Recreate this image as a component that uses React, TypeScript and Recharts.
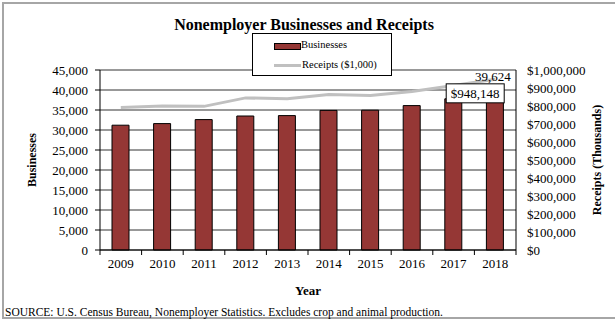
import React from 'react';
import {
  ComposedChart,
  Bar,
  Line,
  XAxis,
  YAxis,
  CartesianGrid,
  Legend,
  LabelList,
  Label,
} from 'recharts';

const years = ['2009', '2010', '2011', '2012', '2013', '2014', '2015', '2016', '2017', '2018'];
const businesses = [31200, 31600, 32600, 33500, 33600, 34900, 34950, 36100, 37800, 39624];
const receipts = [792000, 800000, 798000, 845000, 840000, 864000, 858000, 880000, 914000, 948148];
const businessTicks = [0, 5000, 10000, 15000, 20000, 25000, 30000, 35000, 40000, 45000];
const receiptTicks = [0, 100000, 200000, 300000, 400000, 500000, 600000, 700000, 800000, 900000, 1000000];

const data = years.map((year, i) => ({ year, businesses: businesses[i], receipts: receipts[i] }));

const FONT = '"Liberation Serif", "Times New Roman", serif';
const BAR_COLOR = '#953735';
const LINE_COLOR = '#C0C0C0';

const fmtNum = (v: number) => v.toLocaleString('en-US');
const fmtMoney = (v: number) => '$' + v.toLocaleString('en-US');

const XTick = (props: any) => {
  const { x, y, payload, index } = props;
  const half = payload && typeof payload.offset === 'number' && payload.offset > 0 ? payload.offset : 20.8;
  return (
    <g>
      <line x1={x + half} x2={x + half} y1={y} y2={y + 5} stroke="#000" strokeWidth={1} />
      {index === 0 ? <line x1={x - half} x2={x - half} y1={y} y2={y + 5} stroke="#000" strokeWidth={1} /> : null}
      <text x={x} y={y + 13} textAnchor="middle" dominantBaseline="central" fontFamily={FONT} fontSize={13} fill="#000">
        {payload.value}
      </text>
    </g>
  );
};

const barLabel = (props: any) => {
  const { x, y, width, value, index } = props;
  if (index !== years.length - 1) return null;
  return (
    <text x={x + width / 2 - 2} y={y - 15} textAnchor="middle" dominantBaseline="central" fontFamily={FONT} fontSize={13} fill="#000">
      {fmtNum(value)}
    </text>
  );
};

const lineLabel = (props: any) => {
  const { x, y, value, index } = props;
  if (index !== years.length - 1) return null;
  const cx = x - 20;
  const cy = y + 14;
  return (
    <g>
      <rect x={cx - 29} y={cy - 9.5} width={58} height={19} fill="#fff" stroke="#000" strokeWidth={1} />
      <text x={cx} y={cy} textAnchor="middle" dominantBaseline="central" fontFamily={FONT} fontSize={13} fill="#000">
        {fmtMoney(value)}
      </text>
    </g>
  );
};

const LegendBox = () => (
  <div
    style={{
      width: 140,
      height: 43,
      boxSizing: 'border-box',
      border: '1px solid #000',
      background: '#fff',
      position: 'relative',
      fontFamily: FONT,
      fontSize: 10.5,
      color: '#000',
    }}
  >
    <div style={{ position: 'absolute', left: 21, top: 9, width: 25, height: 5, background: BAR_COLOR, border: '1px solid #000' }} />
    <div style={{ position: 'absolute', left: 48, top: 4, lineHeight: '14px' }}>Businesses</div>
    <div style={{ position: 'absolute', left: 21, top: 30, width: 27, height: 3, background: LINE_COLOR }} />
    <div style={{ position: 'absolute', left: 49, top: 24, lineHeight: '14px' }}>Receipts ($1,000)</div>
  </div>
);

export default function App() {
  return (
    <div
      style={{
        position: 'absolute',
        left: 0,
        top: 0,
        width: 615,
        height: 320,
        overflow: 'hidden',
        background: '#fff',
        fontFamily: FONT,
      }}
    >
      <div
        style={{
          position: 'absolute',
          left: 2,
          top: 2,
          width: 700,
          height: 313,
          borderLeft: '2px solid #a6a6a6',
          borderTop: '2px solid #a6a6a6',
          borderBottom: '2px solid #a6a6a6',
        }}
      />
      <div
        style={{
          position: 'absolute',
          left: 0,
          top: 16,
          width: 608,
          textAlign: 'center',
          fontWeight: 'bold',
          fontSize: 16,
          lineHeight: '18px',
          color: '#000',
        }}
      >
        Nonemployer Businesses and Receipts
      </div>
      <div
        style={{
          position: 'absolute',
          left: 5,
          top: 305,
          fontSize: 11.5,
          lineHeight: '14px',
          color: '#000',
          whiteSpace: 'nowrap',
        }}
      >
        SOURCE: U.S. Census Bureau, Nonemployer Statistics. Excludes crop and animal production.
      </div>
      <div style={{ position: 'absolute', left: 0, top: 0 }}>
        <ComposedChart width={615} height={320} data={data} margin={{ top: 70, right: 10, bottom: 30, left: 10 }}>
          <CartesianGrid yAxisId="left" vertical={false} stroke="#333" strokeWidth={1} />
          <XAxis
            dataKey="year"
            height={40}
            tickLine={false}
            tickSize={0}
            tickMargin={0}
            axisLine={{ stroke: '#000' }}
            tick={<XTick />}
            interval={0}
          >
            <Label
              value="Year"
              position="insideTop"
              offset={36}
              style={{ fontFamily: FONT, fontSize: 13, fontWeight: 'bold', fill: '#000' }}
            />
          </XAxis>
          <YAxis
            yAxisId="left"
            width={90}
            domain={[0, 45000]}
            ticks={businessTicks}
            tickFormatter={fmtNum}
            interval={0}
            tickSize={5}
            tickMargin={7}
            axisLine={{ stroke: '#000' }}
            tickLine={{ stroke: '#000' }}
            tick={{ fontFamily: FONT, fontSize: 13, fill: '#000' }}
          >
            <Label
              value="Businesses"
              angle={-90}
              position="insideLeft"
              offset={22}
              style={{ fontFamily: FONT, fontSize: 12, fontWeight: 'bold', fill: '#000', textAnchor: 'middle' }}
            />
          </YAxis>
          <YAxis
            yAxisId="right"
            orientation="right"
            width={89}
            domain={[0, 1000000]}
            ticks={receiptTicks}
            tickFormatter={fmtMoney}
            interval={0}
            tickSize={5}
            tickMargin={6}
            axisLine={{ stroke: '#000' }}
            tickLine={false}
            tick={{ fontFamily: FONT, fontSize: 13, fill: '#000' }}
          >
            <Label
              value="Receipts (Thousands)"
              angle={-90}
              position="insideRight"
              offset={8}
              style={{ fontFamily: FONT, fontSize: 12, fontWeight: 'bold', fill: '#000', textAnchor: 'middle' }}
            />
          </YAxis>
          <Legend
            layout="vertical"
            align="center"
            verticalAlign="middle"
            wrapperStyle={{ left: 252, top: 33, width: 140, height: 43 }}
            content={() => <LegendBox />}
          />
          <Bar
            yAxisId="left"
            dataKey="businesses"
            name="Businesses"
            fill={BAR_COLOR}
            stroke="#000"
            strokeWidth={1}
            barSize={17}
            isAnimationActive={false}
          >
            <LabelList dataKey="businesses" content={barLabel} />
          </Bar>
          <Line
            yAxisId="right"
            dataKey="receipts"
            name="Receipts ($1,000)"
            stroke={LINE_COLOR}
            strokeWidth={3}
            dot={false}
            activeDot={false}
            type="linear"
            isAnimationActive={false}
          >
            <LabelList dataKey="receipts" content={lineLabel} />
          </Line>
        </ComposedChart>
      </div>
    </div>
  );
}
